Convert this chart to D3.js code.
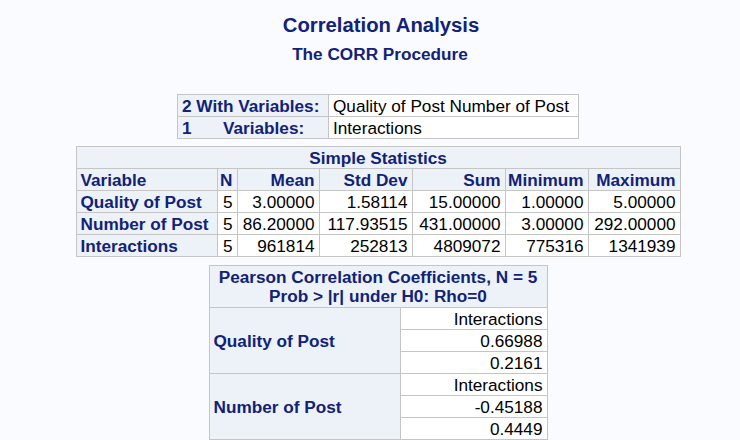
<!DOCTYPE html>
<html>
<head>
<meta charset="utf-8">
<script src="https://cdn.jsdelivr.net/npm/d3@7"></script>
<style>
  html, body { margin: 0; padding: 0; background: #fafbfe; }
  svg { display: block; }
  text { font-family: "Liberation Sans", Arial, sans-serif; }
</style>
</head>
<body>
<script>
// ---------------- DATA ----------------
const mainTitle = "Correlation Analysis";
const subTitle = "The CORR Procedure";

const withLabel = "2 With Variables:";
const withVars = ["Quality of Post", "Number of Post"];
const varNumLabel = "1";
const varLabel = "Variables:";
const corrVars = ["Interactions"];

const statsTitle = "Simple Statistics";
const statHeaders = ["Variable", "N", "Mean", "Std Dev", "Sum", "Minimum", "Maximum"];
const variables = ["Quality of Post", "Number of Post", "Interactions"];
const nValues = [5, 5, 5];
const means = [3.0, 86.2, 961814];
const stdDevs = [1.58114, 117.93515, 252813];
const sums = [15.0, 431.0, 4809072];
const minimums = [1.0, 3.0, 775316];
const maximums = [5.0, 292.0, 1341939];
const varFormats = [".5f", ".5f", ".0f"];

const pearsonTitle = ["Pearson Correlation Coefficients, N = 5", "Prob > |r| under H0: Rho=0"];
const corrRows = ["Quality of Post", "Number of Post"];
const corrCoefs = [0.66988, -0.45188];
const pValues = [0.2161, 0.4449];

// ---------------- STYLE / LAYOUT ----------------
const W = 740, H = 440;
const bg = "#fafbfe", hdrBg = "#edf2f9", cellBg = "#ffffff";
const hdrColor = "#112277", txtColor = "#000000", border = "#c5c5c5";
const FS = 17.2;

const svg = d3.select("body").append("svg").attr("width", W).attr("height", H);
svg.append("rect").attr("width", W).attr("height", H).attr("fill", bg);

svg.append("text").attr("x", 381).attr("y", 32).attr("text-anchor", "middle")
  .attr("font-size", 20.3).attr("font-weight", "bold").attr("fill", hdrColor).text(mainTitle);
svg.append("text").attr("x", 380).attr("y", 60).attr("text-anchor", "middle")
  .attr("font-size", 17.2).attr("font-weight", "bold").attr("fill", hdrColor).text(subTitle);

function cell(g, x, y, w, h, opts) {
  g.append("rect").attr("x", x + 0.5).attr("y", y + 0.5).attr("width", w).attr("height", h)
    .attr("fill", opts.header ? hdrBg : cellBg).attr("stroke", border).attr("stroke-width", 1);
  const lines = Array.isArray(opts.text) ? opts.text : [opts.text];
  const lh = 19;
  const baseY = y + h / 2 + 6.5 - (lines.length - 1) * lh / 2;
  lines.forEach((t, i) => {
    let tx, anchor;
    if (opts.align === "left") { tx = x + (opts.padL ?? 4.5); anchor = "start"; }
    else if (opts.align === "center") { tx = x + w / 2; anchor = "middle"; }
    else { tx = x + w - 4.5; anchor = "end"; }
    g.append("text").attr("x", tx).attr("y", baseY + i * lh).attr("text-anchor", anchor)
      .attr("font-size", FS).attr("font-weight", opts.header ? "bold" : "normal")
      .attr("fill", opts.header ? hdrColor : txtColor).text(t);
  });
}

function colScale(keys, x0, widths) {
  const starts = [x0, ...d3.cumsum(widths).map(c => x0 + c)];
  const s = d3.scaleOrdinal().domain(keys).range(starts.slice(0, keys.length));
  const wmap = d3.scaleOrdinal().domain(keys).range(widths);
  return { x: s, w: wmap };
}

// ---------------- TABLE 1: variables ----------------
{
  const g = svg.append("g");
  const rows = d3.scaleBand().domain(["with", "var"]).range([94, 138]);
  const cols = colScale(["label", "value"], 177, [151, 250]);
  cell(g, cols.x("label"), rows("with"), cols.w("label"), rows.bandwidth(), { header: true, text: withLabel, align: "left", padL: 5 });
  cell(g, cols.x("value"), rows("with"), cols.w("value"), rows.bandwidth(), { header: false, text: withVars.join(" "), align: "left", padL: 5 });
  cell(g, cols.x("label"), rows("var"), cols.w("label"), rows.bandwidth(), { header: true, text: "", align: "left" });
  g.append("text").attr("x", cols.x("label") + 5).attr("y", rows("var") + rows.bandwidth() / 2 + 6.5)
    .attr("font-size", FS).attr("font-weight", "bold").attr("fill", hdrColor).text(varNumLabel);
  g.append("text").attr("x", cols.x("label") + 46).attr("y", rows("var") + rows.bandwidth() / 2 + 6.5)
    .attr("font-size", FS).attr("font-weight", "bold").attr("fill", hdrColor).text(varLabel);
  cell(g, cols.x("value"), rows("var"), cols.w("value"), rows.bandwidth(), { header: false, text: corrVars.join(" "), align: "left", padL: 5 });
}

// ---------------- TABLE 2: simple statistics ----------------
{
  const g = svg.append("g");
  const rows = d3.scaleBand().domain(["title", "header", ...variables]).range([146, 256]);
  const cols = colScale(statHeaders, 76, [141, 20, 82, 93, 93, 83, 92]);
  const x0 = cols.x(statHeaders[0]);
  const totalW = d3.sum(statHeaders.map(k => cols.w(k)));
  cell(g, x0, rows("title"), totalW, rows.bandwidth(), { header: true, text: statsTitle, align: "center" });
  statHeaders.forEach((hd, j) => {
    cell(g, cols.x(hd), rows("header"), cols.w(hd), rows.bandwidth(), { header: true, text: hd, align: j === 0 ? "left" : "right" });
  });
  const colsData = [nValues, means, stdDevs, sums, minimums, maximums];
  variables.forEach((v, i) => {
    cell(g, cols.x("Variable"), rows(v), cols.w("Variable"), rows.bandwidth(), { header: true, text: v, align: "left" });
    colsData.forEach((arr, j) => {
      const key = statHeaders[j + 1];
      const txt = j === 0 ? String(arr[i]) : d3.format(varFormats[i])(arr[i]);
      cell(g, cols.x(key), rows(v), cols.w(key), rows.bandwidth(), { header: false, text: txt, align: "right" });
    });
  });
}

// ---------------- TABLE 3: Pearson correlations ----------------
{
  const g = svg.append("g");
  const cols = colScale(["label", "value"], 209, [191, 147]);
  const headTop = 265, headBottom = 307;
  const totalW = cols.w("label") + cols.w("value");
  cell(g, cols.x("label"), headTop, totalW, headBottom - headTop, { header: true, text: pearsonTitle, align: "center" });
  const rowKeys = [];
  corrRows.forEach(r => { rowKeys.push(r + "|name", r + "|r", r + "|p"); });
  const rows = d3.scaleBand().domain(rowKeys).range([headBottom, headBottom + rowKeys.length * 22]);
  corrRows.forEach((r, i) => {
    const y0 = rows(r + "|name");
    cell(g, cols.x("label"), y0, cols.w("label"), rows.bandwidth() * 3, { header: true, text: r, align: "left" });
    cell(g, cols.x("value"), rows(r + "|name"), cols.w("value"), rows.bandwidth(), { header: false, text: corrVars[0], align: "right" });
    cell(g, cols.x("value"), rows(r + "|r"), cols.w("value"), rows.bandwidth(), { header: false, text: d3.format(".5f")(corrCoefs[i]).replace("−", "-"), align: "right" });
    cell(g, cols.x("value"), rows(r + "|p"), cols.w("value"), rows.bandwidth(), { header: false, text: d3.format(".4f")(pValues[i]), align: "right" });
  });
}
</script>
</body>
</html>
